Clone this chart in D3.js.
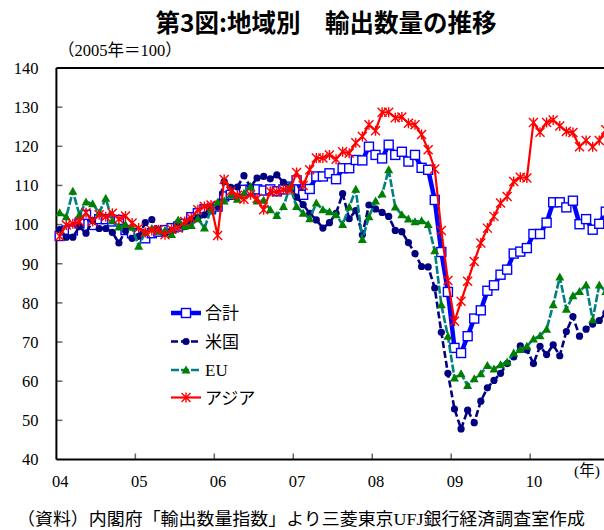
<!DOCTYPE html>
<html><head><meta charset="utf-8">
<script src="https://cdn.jsdelivr.net/npm/d3@7"></script>
<style>body{margin:0;background:#fff;overflow:hidden}svg{display:block}</style>
</head><body>
<script>
const years = ["04","05","06","07","08","09","10"];
const yTicks = [40,50,60,70,80,90,100,110,120,130,140];
const seriesNames = ["合計","米国","EU","アジア"];
const total = [
97.1,98.5,98.5,100.3,102.5,99.9,101.4,101.4,100.8,101.2,98.6,97.8,
97.6,96.5,97.8,98.2,98.6,99.1,99.5,100.2,101.9,102.9,103.9,103.9,
104.6,107.2,107.6,108.4,108.9,108.9,109.0,108.7,109.0,108.5,109.0,109.7,
111.3,107.6,109.1,112.3,112.3,113.1,111.6,114.4,114.4,116.5,116.4,119.9,
117.8,116.9,120.4,117.8,118.6,116.1,117.8,114.5,114.0,106.3,93.0,82.8,
68.5,67.2,71.5,76.0,78.1,83.1,84.5,87.2,88.5,92.6,93.1,94.0,
97.6,97.6,100.5,105.7,105.7,104.4,106.1,100.1,101.4,98.7,100.2,103.3];
const usa = [
98.7,96.8,96.8,99.5,97.8,101.0,99.0,99.0,98.0,95.3,98.5,96.5,
97.0,100.5,101.3,98.5,97.8,98.5,100.5,99.5,101.2,101.8,102.5,104.5,
104.5,111.0,109.5,109.6,112.5,109.6,111.9,112.3,111.7,112.7,110.8,109.7,
107.0,105.1,102.9,101.2,99.1,100.5,102.9,107.9,101.5,103.6,97.4,105.0,
104.0,103.1,102.1,98.5,98.2,95.4,92.6,89.3,89.2,83.8,72.5,62.0,
52.9,47.8,52.6,49.4,54.9,58.3,60.2,62.0,64.5,66.2,69.0,68.0,
64.5,68.9,66.8,69.3,66.5,72.7,76.5,71.5,73.3,74.6,75.5,77.4];
const eu = [
103.0,102.0,108.5,102.5,105.8,105.3,103.0,106.7,101.0,99.4,100.0,99.3,
94.5,98.0,99.0,98.3,98.5,97.5,101.2,99.6,99.8,101.5,99.1,103.8,
105.7,106.0,107.5,106.5,108.0,109.7,106.0,106.2,103.8,102.3,104.6,109.7,
104.6,102.9,101.5,105.5,103.8,103.3,102.5,100.0,104.5,109.0,96.2,102.0,
106.0,107.8,114.0,104.5,102.5,101.4,100.7,101.0,100.0,93.3,79.5,71.5,
60.8,61.9,58.9,60.6,61.9,64.0,63.1,64.2,64.9,67.2,68.1,68.9,
70.8,71.6,73.3,79.5,86.6,78.4,81.8,82.9,84.6,75.7,84.6,82.9];
const asia = [
97.0,99.9,100.2,100.8,103.0,100.8,102.5,102.0,102.9,101.4,102.2,100.4,
99.1,98.0,98.5,98.7,97.4,98.8,99.1,100.8,101.6,103.8,104.6,105.0,
97.2,111.5,108.5,107.5,106.5,107.6,106.7,103.8,108.5,108.3,108.9,108.9,
113.3,110.0,114.0,117.0,117.0,117.8,116.7,118.6,118.2,120.9,122.5,125.5,
124.0,128.7,128.7,127.3,127.5,125.9,125.5,123.0,119.1,114.2,98.5,85.7,
75.3,80.4,85.5,90.6,95.3,99.1,102.1,105.5,107.2,111.0,112.1,111.9,
126.1,123.6,126.1,126.7,125.2,123.8,123.5,119.9,121.5,119.9,121.5,124.2];

const W = 604, H = 530;
const svg = d3.select("body").append("svg").attr("width", W).attr("height", H);
const serif = "'Liberation Serif','Times New Roman','Noto Sans CJK JP',serif";
const jp = "'Noto Sans CJK JP',sans-serif";

const nMonths = 84;
const x = d3.scaleLinear().domain([0, nMonths]).range([56.4, 56.4 + 6.58 * nMonths]);
const y = d3.scaleLinear().domain([40, 140]).range([459.5, 68]);
const px = i => x(i + 0.5);

// title
svg.append("text").attr("x", 326).attr("y", 32).attr("text-anchor", "middle")
  .attr("font-family", jp).attr("font-weight", "bold").attr("font-size", 24.5)
  .text("第3図:地域別　輸出数量の推移");
svg.append("text").attr("x", 58).attr("y", 56).attr("font-family", serif).attr("font-size", 16.5)
  .text("（2005年＝100）");

// axes
const gY = svg.append("g").attr("transform", `translate(${x(0)},0)`)
  .call(d3.axisLeft(y).tickValues(yTicks).tickSize(0).tickPadding(18));
gY.select(".domain").remove();
gY.selectAll("text").attr("font-family", serif).attr("font-size", 16.5).attr("fill", "#000");
svg.append("g").selectAll("line").data(yTicks.slice(1, -1)).join("line")
  .attr("x1", x(0)).attr("x2", x(0) + 6).attr("y1", d => y(d)).attr("y2", d => y(d))
  .attr("stroke", "#666").attr("stroke-width", 1.5);

const gX = svg.append("g").attr("transform", `translate(0,${y(40)})`)
  .call(d3.axisBottom(x).tickValues(years.map((d, k) => k * 12 + 0.5)).tickFormat((d, k) => years[k]).tickSize(0).tickPadding(16));
gX.select(".domain").remove();
gX.selectAll("text").attr("font-family", serif).attr("font-size", 16.5).attr("fill", "#000");
svg.append("g").selectAll("line").data(d3.range(1, 8)).join("line")
  .attr("x1", d => x(d * 12)).attr("x2", d => x(d * 12))
  .attr("y1", y(40)).attr("y2", y(40) - 6).attr("stroke", "#666").attr("stroke-width", 1.5);

// frame
svg.append("line").attr("x1", x(0)).attr("x2", x(nMonths)).attr("y1", y(140)).attr("y2", y(140)).attr("stroke", "#000").attr("stroke-width", 2);
svg.append("line").attr("x1", x(0)).attr("x2", x(nMonths)).attr("y1", y(40)).attr("y2", y(40)).attr("stroke", "#000").attr("stroke-width", 2);
svg.append("line").attr("x1", x(0)).attr("x2", x(0)).attr("y1", y(140)).attr("y2", y(40)).attr("stroke", "#000").attr("stroke-width", 2);

svg.append("text").attr("x", 574).attr("y", 476).attr("font-family", serif).attr("font-size", 15.5).text("(年)");
svg.append("text").attr("x", 17).attr("y", 525).attr("font-family", serif).attr("font-size", 17.5)
  .attr("textLength", 568).attr("lengthAdjust", "spacingAndGlyphs")
  .text("（資料）内閣府「輸出数量指数」より三菱東京UFJ銀行経済調査室作成");

const line = d3.line().x((d, i) => px(i)).y(d => y(d));

function square(g, cx, cy) {
  g.append("rect").attr("x", cx - 4.5).attr("y", cy - 4.5).attr("width", 9).attr("height", 9)
    .attr("fill", "#fff").attr("stroke", "#0000ff").attr("stroke-width", 1.4);
}
function dot(g, cx, cy) {
  g.append("circle").attr("cx", cx).attr("cy", cy).attr("r", 3.6).attr("fill", "#000080");
}
function tri(g, cx, cy) {
  g.append("path").attr("d", `M${cx},${cy - 4.5}L${cx + 4.5},${cy + 3.5}L${cx - 4.5},${cy + 3.5}Z`).attr("fill", "#008000");
}
function star(g, cx, cy) {
  const r = 4.5;
  g.append("path").attr("d", `M${cx - r},${cy - r}L${cx + r},${cy + r}M${cx - r},${cy + r}L${cx + r},${cy - r}M${cx},${cy - r - 0.5}L${cx},${cy + r + 0.5}`)
    .attr("stroke", "#ff0000").attr("stroke-width", 1.4).attr("fill", "none");
}

const series = [
  {name: seriesNames[0], data: total, color: "#0000ff", width: 4.5, dash: null, mark: square},
  {name: seriesNames[1], data: usa, color: "#000080", width: 2.6, dash: "7,3", mark: dot},
  {name: seriesNames[2], data: eu, color: "#008080", width: 2.6, dash: "8,2", mark: tri},
  {name: seriesNames[3], data: asia, color: "#ff0000", width: 2.2, dash: null, mark: star}
];

series.forEach(s => {
  const g = svg.append("g");
  g.append("path").datum(s.data).attr("d", line).attr("fill", "none")
    .attr("stroke", s.color).attr("stroke-width", s.width)
    .attr("stroke-dasharray", s.dash).attr("stroke-linejoin", "round");
  s.data.forEach((v, i) => s.mark(g, px(i), y(v)));
});

const legY = [313, 341.5, 370, 397.5];
series.forEach((s, k) => {
  const g = svg.append("g");
  g.append("line").attr("x1", 171).attr("x2", 201).attr("y1", legY[k]).attr("y2", legY[k])
    .attr("stroke", s.color).attr("stroke-width", s.width).attr("stroke-dasharray", s.dash);
  s.mark(g, 186, legY[k]);
  g.append("text").attr("x", 205).attr("y", legY[k] + 6).attr("font-family", serif)
    .attr("font-size", 17).text(s.name);
});
</script>
</body></html>
